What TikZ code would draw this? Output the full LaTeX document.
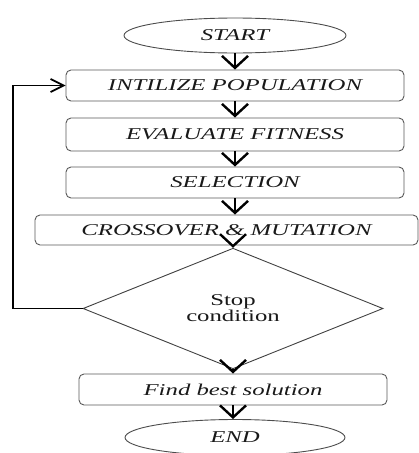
\documentclass[tikz,border=0pt]{standalone}
\usepackage{fontspec}
\usepackage{graphicx}
\setmainfont{Liberation Serif}
\usetikzlibrary{shapes.geometric,arrows.meta}
\newcommand{\wt}[1]{\scalebox{1.5}[1]{#1}}
\begin{document}
\begin{tikzpicture}[x=1pt,y=-1pt,
  every node/.style={inner sep=0pt,text=black!90,font=\fontsize{16.5}{19}\selectfont},
  procbox/.style={draw=black!65,line width=0.9pt,rounded corners=5pt,minimum height=31pt},
  termnode/.style={draw=black!70,line width=0.9pt,ellipse},
  decnode/.style={draw=black!75,line width=0.9pt,diamond,align=center},
  arr/.style={draw=black,line width=1.8pt,-{Straight Barb[length=12pt,width=26pt,line width=2.4pt]}},
  looparr/.style={draw=black,line width=1.2pt,-{Straight Barb[length=13pt,width=13pt,line width=1.8pt]}}]
\useasboundingbox (0,0) rectangle (419,453);
\node[termnode,minimum width=222pt,minimum height=35pt] (start) at (235,35.5) {\wt{\itshape START}};
\node[procbox,minimum width=338pt] (init) at (235,85.5) {\wt{\itshape INTILIZE POPULATION}};
\node[procbox,minimum width=338pt,minimum height=33pt] (eval) at (235,134.5) {\wt{\itshape EVALUATE FITNESS}};
\node[procbox,minimum width=338pt] (sel) at (235,182.5) {\wt{\itshape SELECTION}};
\node[procbox,minimum width=383pt,minimum height=30pt] (cross) at (226.5,230) {\wt{\itshape CROSSOVER \& MUTATION}};
\node[decnode,minimum width=300pt,minimum height=97pt] (dia) at (233,308.5) {\wt{Stop}\\[-3pt]\wt{condition}};
\node[procbox,minimum width=308pt] (best) at (233,389.5) {\wt{\itshape Find best solution}};
\node[termnode,minimum width=220pt,minimum height=36pt] (end) at (235,437.5) {\wt{\itshape END}};
\coordinate (lp) at (13,308.5);
\draw[arr] (start.south -| init.north) -- (init.north);
\draw[arr] (init.south) -- (eval.north);
\draw[arr] (eval.south) -- (sel.north);
\draw[arr] (sel.south) -- (sel.south |- cross.north);
\draw[arr] (cross.south -| dia.north) -- (dia.north);
\draw[arr] (dia.south) -- (best.north);
\draw[arr] (best.south) -- (best.south |- end.north);
\draw[looparr] (dia.west) -- (lp) |- (init.west);
\end{tikzpicture}
\end{document}
